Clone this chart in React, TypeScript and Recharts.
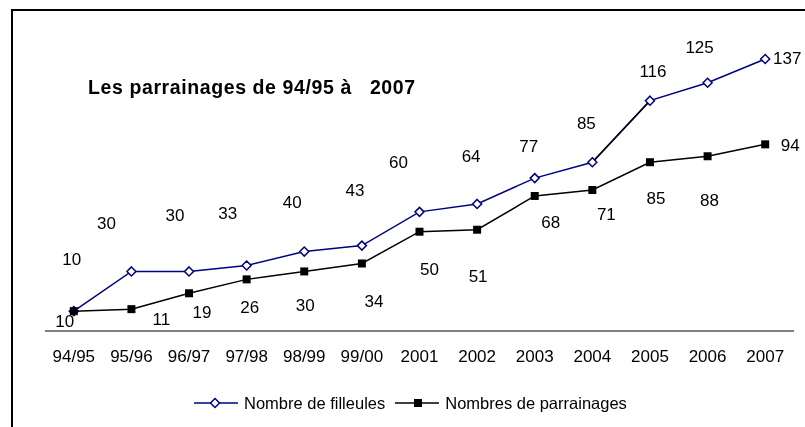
import { LineChart, Line, XAxis, YAxis, LabelList } from 'recharts';

const periods = ['94/95', '95/96', '96/97', '97/98', '98/99', '99/00', '2001', '2002', '2003', '2004', '2005', '2006', '2007'];
const filleules = [10, 30, 30, 33, 40, 43, 60, 64, 77, 85, 116, 125, 137];
const parrainages = [10, 11, 19, 26, 30, 34, 50, 51, 68, 71, 85, 88, 94];

const NAVY = '#000080';
const FONT = '"Liberation Sans", Arial, sans-serif';

// label offsets from their point, as placed in the original
const blueLabelOffsets: [number, number][] = [
  [-2, -52], [-25, -48], [-14, -56], [-19, -52], [-12, -49], [-7, -55], [-21, -49],
  [-6, -47], [-6, -32], [-6, -39], [3, -29], [-8, -35], [22, 0],
];
const blackLabelOffsets: [number, number][] = [
  [-9, 10], [30, 10], [13, 19], [3, 28], [1, 34], [12, 38], [10, 38],
  [1, 47], [16, 27], [14, 24], [6, 36], [2, 44], [25, 1],
];

const data = periods.map((period, i) => ({
  period,
  filleules: filleules[i],
  parrainages: parrainages[i],
  // the 2004 -> 2005 piece is drawn in black in the source
  seg: i === 9 || i === 10 ? filleules[i] : null,
}));

const Diamond = (props: any) => {
  const { cx, cy } = props;
  if (cx == null || cy == null) return null;
  const r = 4.5;
  return (
    <polygon
      points={`${cx},${cy - r} ${cx + r},${cy} ${cx},${cy + r} ${cx - r},${cy}`}
      fill="#fff"
      stroke={NAVY}
      strokeWidth={1.5}
    />
  );
};

const Square = (props: any) => {
  const { cx, cy } = props;
  if (cx == null || cy == null) return null;
  return <rect x={cx - 4} y={cy - 4} width={8} height={8} fill="#000" />;
};

const makeLabel = (offsets: [number, number][]) => (props: any) => {
  const { x, y, value, index } = props;
  const [dx, dy] = offsets[index] || [0, 0];
  return (
    <text
      x={x + dx}
      y={y + dy}
      textAnchor="middle"
      dominantBaseline="central"
      fontFamily={FONT}
      fontSize={17}
      fill="#000"
    >
      {value}
    </text>
  );
};

const LegendItem = ({ label, marker }: { label: string; marker: 'diamond' | 'square' }) => (
  <div style={{ display: 'flex', alignItems: 'center' }}>
    <svg width={44} height={14}>
      <line x1={0} y1={7} x2={44} y2={7} stroke={marker === 'diamond' ? NAVY : '#000'} strokeWidth={1.5} />
      {marker === 'diamond' ? (
        <polygon points="21,2.5 25.5,7 21,11.5 16.5,7" fill="#fff" stroke={NAVY} strokeWidth={1.5} />
      ) : (
        <rect x={19} y={3} width={8} height={8} fill="#000" />
      )}
    </svg>
    <span style={{ marginLeft: 6 }}>{label}</span>
  </div>
);

export default function App() {
  return (
    <div
      style={{
        position: 'fixed',
        left: 8,
        top: 8,
        width: 797,
        height: 419,
        overflow: 'hidden',
        fontFamily: FONT,
      }}
    >
      <div
        style={{
          position: 'absolute',
          left: 3,
          top: 1,
          width: 900,
          height: 600,
          borderTop: '2px solid #000',
          borderLeft: '2px solid #000',
        }}
      />
      <div
        style={{
          position: 'absolute',
          left: 80,
          top: 69,
          fontSize: 19.5,
          lineHeight: '20px',
          fontWeight: 'bold',
          whiteSpace: 'pre',
          letterSpacing: 0.6,
        }}
      >
        {'Les parrainages de 94/95 à   2007'}
      </div>
      <div style={{ position: 'absolute', left: 0, top: 0 }}>
        <LineChart width={797} height={419} data={data} margin={{ top: 45, right: 11, left: 37, bottom: 0 }}>
          <XAxis
            dataKey="period"
            height={96}
            padding={{ left: 28.8, right: 28.8 }}
            axisLine={{ stroke: '#000', strokeWidth: 1 }}
            tickLine={false}
            tickSize={0}
            tickMargin={19}
            interval={0}
            tick={{ fill: '#000', fontSize: 17, fontFamily: FONT }}
          />
          <YAxis hide domain={[0, 140]} />
          <Line
            dataKey="filleules"
            stroke={NAVY}
            strokeWidth={1.5}
            dot={false}
            isAnimationActive={false}
          />
          <Line
            dataKey="seg"
            stroke="#000"
            strokeWidth={1.5}
            dot={false}
            connectNulls={false}
            legendType="none"
            isAnimationActive={false}
          />
          <Line
            dataKey="filleules"
            stroke="none"
            dot={<Diamond />}
            legendType="none"
            isAnimationActive={false}
          >
            <LabelList dataKey="filleules" content={makeLabel(blueLabelOffsets)} />
          </Line>
          <Line
            dataKey="parrainages"
            stroke="#000"
            strokeWidth={1.5}
            dot={<Square />}
            isAnimationActive={false}
          >
            <LabelList dataKey="parrainages" content={makeLabel(blackLabelOffsets)} />
          </Line>
        </LineChart>
      </div>
      <div
        style={{
          position: 'absolute',
          left: 186,
          top: 385,
          display: 'flex',
          alignItems: 'center',
          fontSize: 16.5,
          lineHeight: '20px',
          color: '#000',
        }}
      >
        <LegendItem label="Nombre de filleules" marker="diamond" />
        <div style={{ width: 10 }} />
        <LegendItem label="Nombres de parrainages" marker="square" />
      </div>
    </div>
  );
}
